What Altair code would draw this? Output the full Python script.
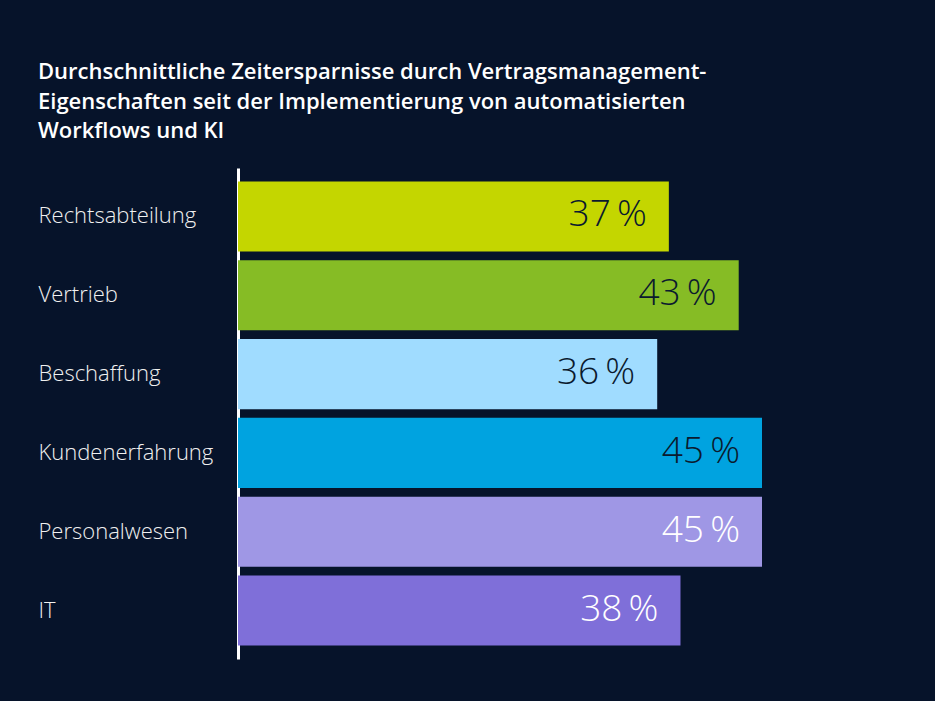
import altair as alt
import pandas as pd

categories = ["Rechtsabteilung", "Vertrieb", "Beschaffung", "Kundenerfahrung", "Personalwesen", "IT"]
values = [37, 43, 36, 45, 45, 38]
bar_colors = ["#c4d600", "#86bc25", "#a0dcff", "#00a3e0", "#9f97e5", "#7f6fd9"]
text_colors = ["#0b1a2e", "#0b1a2e", "#0b1a2e", "#0b1a2e", "#ffffff", "#ffffff"]
title_lines = [
    "Durchschnittliche Zeitersparnisse durch Vertragsmanagement-",
    "Eigenschaften seit der Implementierung von automatisierten",
    "Workflows und KI",
]

df = pd.DataFrame({
    "cat": categories,
    "val": values,
    "color": bar_colors,
    "tcolor": text_colors,
    "label": [f"{v}\u2009%" for v in values],
})

y_enc = alt.Y(
    "cat:N",
    sort=categories,
    scale=alt.Scale(paddingInner=0.11, paddingOuter=0.17),
    axis=alt.Axis(
        title=None,
        domain=True,
        domainColor="#ffffff",
        domainWidth=3,
        ticks=False,
        grid=False,
        labelAlign="left",
        labelPadding=200,
        labelFont="Open Sans",
        labelFontWeight=300,
        labelFontSize=22,
        labelColor="#f0f0f0",
    ),
)
x_enc = alt.X("val:Q", scale=alt.Scale(domain=[0, 45], nice=False, zero=True), axis=None)

base = alt.Chart(df).encode(y=y_enc, x=x_enc)

bars = base.mark_bar().encode(color=alt.Color("color:N", scale=None))
texts = base.mark_text(
    align="right", baseline="middle", dx=-22, dy=-1,
    font="Open Sans", fontWeight=300, fontSize=37,
).encode(text="label:N", color=alt.Color("tcolor:N", scale=None))

chart = (
    (bars + texts)
    .properties(
        width=524,
        height=491,
        autosize=alt.AutoSizeParams(type="none"),
        padding={"left": 238, "top": 168, "right": 173, "bottom": 42},
        background="#06132a",
        title=alt.TitleParams(
            text=title_lines,
            anchor="start",
            frame="group",
            dx=-200,
            font="Open Sans",
            fontWeight=600,
            fontSize=22,
            color="#ffffff",
            lineHeight=29.5,
            baseline="alphabetic",
            offset=8,
        ),
    )
    .configure_view(stroke=None)
)

chart.save("out.html", embed_options={"renderer": "svg", "actions": False})
